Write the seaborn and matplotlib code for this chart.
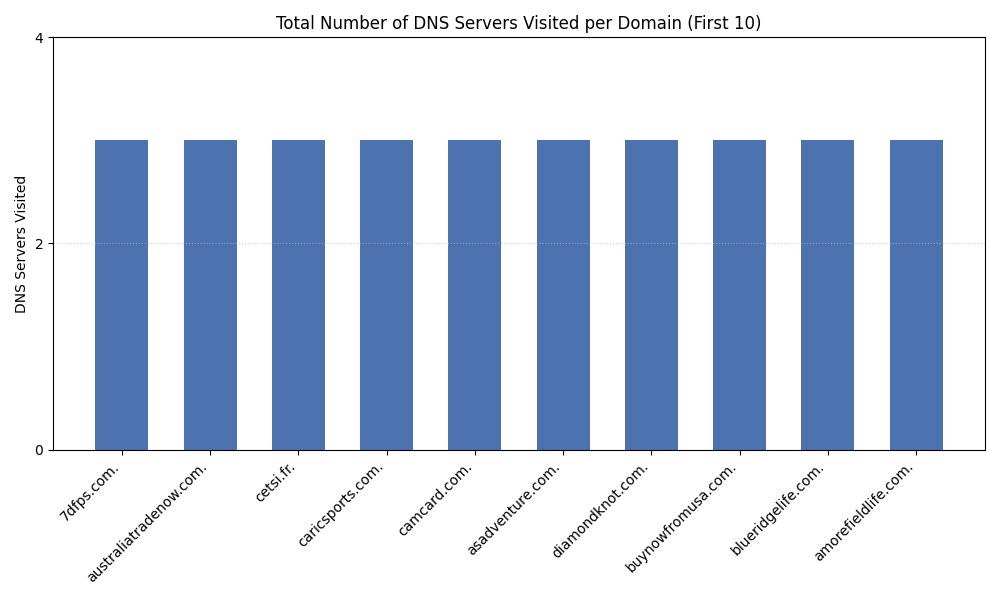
import pandas as pd
import seaborn as sns
from matplotlib import pyplot as plt

domains = ['7dfps.com.', 'australiatradenow.com.', 'cetsi.fr.', 'caricsports.com.',
           'camcard.com.', 'asadventure.com.', 'diamondknot.com.', 'buynowfromusa.com.',
           'blueridgelife.com.', 'amorefieldlife.com.']
servers_visited = [3, 3, 3, 3, 3, 3, 3, 3, 3, 3]

df = pd.DataFrame({'domain': domains, 'servers': servers_visited})

fig, ax = plt.subplots(figsize=(10, 6), dpi=100)
sns.barplot(data=df, x='domain', y='servers', color='#4C72B0', saturation=1, width=0.6, ax=ax)

ax.set_xlim(-0.78, len(domains) - 1 + 0.78)
ax.set_ylim(0, 4)
ax.set_yticks([0, 2, 4])
ax.set_xlabel('')
ax.set_ylabel('DNS Servers Visited')
ax.set_title('Total Number of DNS Servers Visited per Domain (First 10)')
plt.setp(ax.get_xticklabels(), rotation=45, ha='right')
ax.grid(axis='y', linestyle=':', color='#bbbbbb', alpha=0.7)
ax.set_axisbelow(False)
for sp in ax.spines.values():
    sp.set_zorder(5)  # keep the frame on top of the grid

plt.tight_layout()
plt.savefig('out.png')
